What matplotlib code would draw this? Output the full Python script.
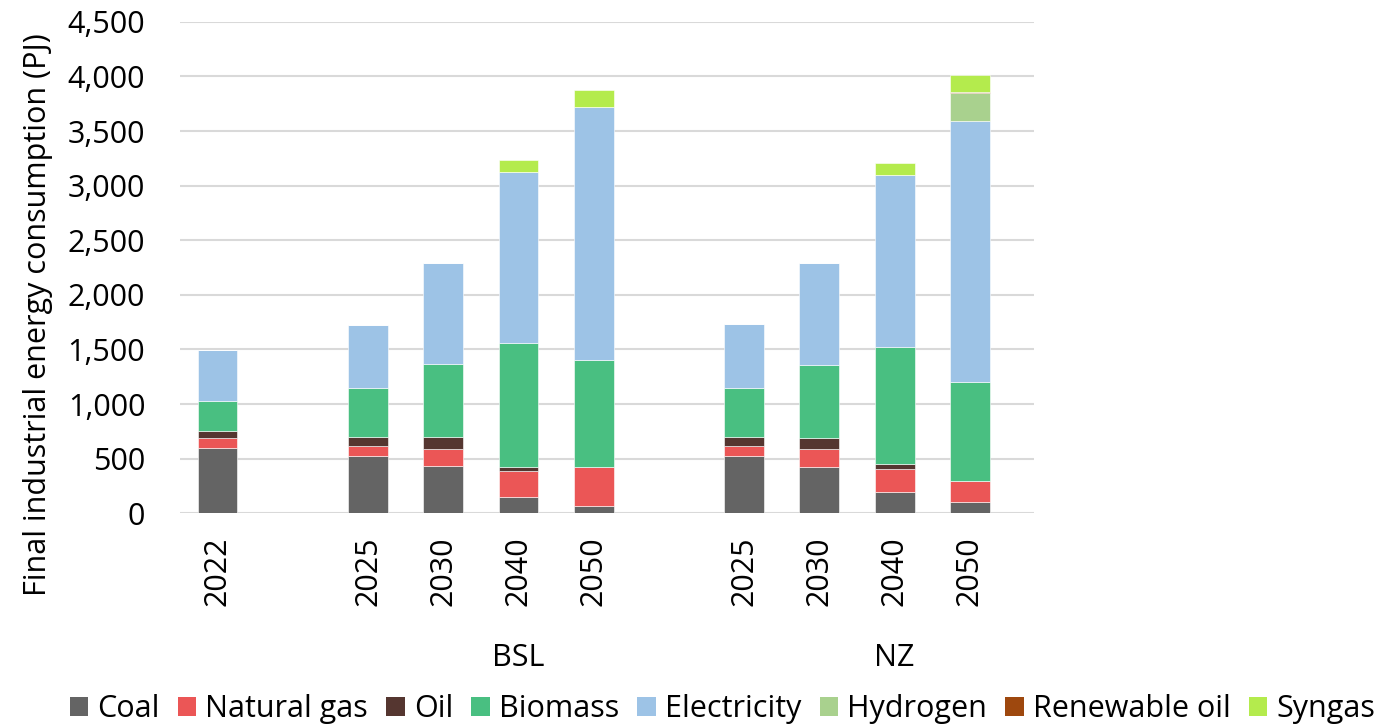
import matplotlib.pyplot as plt
import numpy as np
from matplotlib.patches import Patch

plt.rcParams['font.family'] = ['Open Sans', 'DejaVu Sans']

# Years on the category axis; None marks an empty gap slot
years = ['2022', None, '2025', '2030', '2040', '2050', None,
         '2025', '2030', '2040', '2050']
scenarios = ['BSL', 'NZ']
scenario_centres = [4, 9]

# Consumption by fuel (PJ), one value per slot
coal = [600, 0, 520, 431, 153, 67, 0, 522, 425, 190, 104]
natural_gas = [85, 0, 97, 156, 232, 358, 0, 92, 159, 216, 192]
oil = [70, 0, 83, 113, 40, 0, 0, 80, 106, 43, 0]
biomass = [275, 0, 448, 668, 1136, 977, 0, 455, 670, 1076, 908]
electricity = [465, 0, 577, 927, 1564, 2316, 0, 580, 931, 1570, 2389]
hydrogen = [0, 0, 0, 0, 0, 0, 0, 0, 0, 0, 254]
renewable_oil = [0, 0, 0, 0, 0, 0, 0, 0, 0, 0, 8]
syngas = [0, 0, 0, 0, 110, 159, 0, 0, 0, 110, 160]

fuels = ['Coal', 'Natural gas', 'Oil', 'Biomass', 'Electricity',
         'Hydrogen', 'Renewable oil', 'Syngas']
series = [coal, natural_gas, oil, biomass, electricity,
          hydrogen, renewable_oil, syngas]
colors = ['#646464', '#EB5656', '#553630', '#49BF81', '#9DC3E6',
          '#A9D18E', '#9E480E', '#B4EB4D']

FS = 22

fig = plt.figure(figsize=(13.84, 7.28), dpi=100)
ax = fig.add_axes([0.130, 0.295, 0.617, 0.675])

x = np.arange(len(years))
bottom = np.zeros(len(years))
for vals, col in zip(series, colors):
    vals = np.array(vals, dtype=float)
    ax.bar(x, vals, width=0.53, bottom=bottom, color=col,
           edgecolor='white', linewidth=0.4, zorder=3)
    bottom += vals

ax.set_ylim(0, 4500)
ax.set_xlim(-0.5, 10.85)
ax.set_yticks(np.arange(0, 4501, 500))
ax.set_yticklabels([f'{v:,}' for v in range(0, 4501, 500)], fontsize=FS)
ax.yaxis.grid(True, color='#D9D9D9', linewidth=1.5, zorder=0)
ax.set_axisbelow(True)
for s in ax.spines.values():
    s.set_visible(False)
ax.tick_params(axis='y', length=0, pad=25)

tick_pos = [i for i, y in enumerate(years) if y]
ax.set_xticks(tick_pos)
ax.set_xticklabels([years[i] for i in tick_pos], rotation=90, fontsize=FS)
ax.tick_params(axis='x', length=0, pad=17)

for name, c in zip(scenarios, scenario_centres):
    ax.text(c, -1330, name, ha='center', va='center', fontsize=FS)

ax.set_ylabel('Final industrial energy consumption (PJ)', fontsize=FS)
ax.yaxis.set_label_coords(-0.149, 0.405)

handles = [Patch(facecolor=c) for c in colors]
fig.legend(handles, fuels, loc='center', bbox_to_anchor=(0.522, 0.026),
           ncol=8, frameon=False, fontsize=FS, handlelength=0.6,
           handleheight=0.6, handletextpad=0.3, columnspacing=0.6)

fig.savefig('out.png', dpi=100)
